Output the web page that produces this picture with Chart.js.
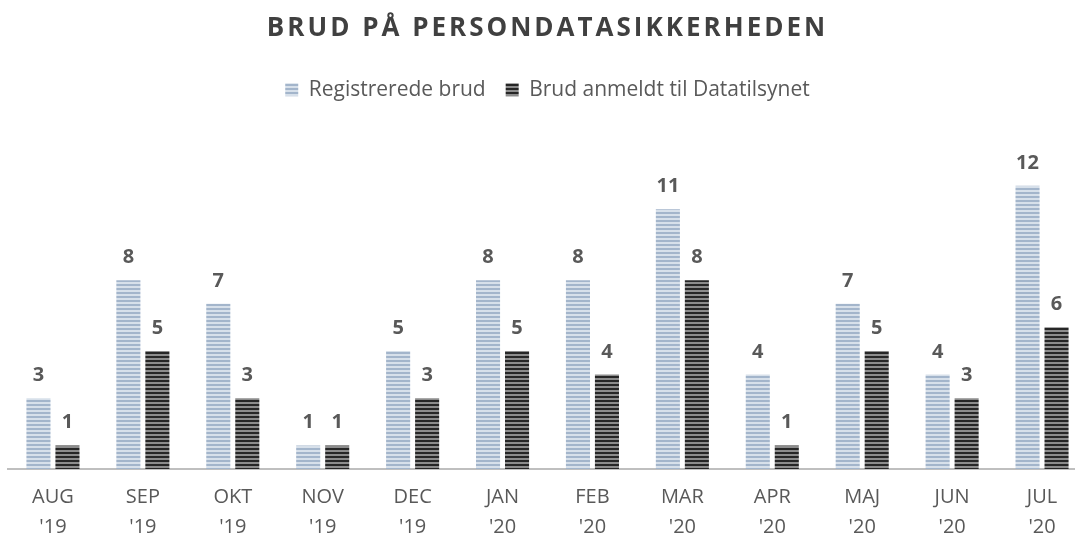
<!DOCTYPE html>
<html>
<head>
<meta charset="utf-8">
<script src="https://cdn.jsdelivr.net/npm/chart.js@4/dist/chart.umd.min.js"></script>
<style>
  html, body { margin: 0; padding: 0; background: #fff; }
  #wrap { width: 1075px; height: 541px; }
</style>
</head>
<body>
<div id="wrap"><canvas id="chart"></canvas></div>
<script>
// --- data ---
const maaneder = [["AUG", "'19"], ["SEP", "'19"], ["OKT", "'19"], ["NOV", "'19"], ["DEC", "'19"], ["JAN", "'20"],
                  ["FEB", "'20"], ["MAR", "'20"], ["APR", "'20"], ["MAJ", "'20"], ["JUN", "'20"], ["JUL", "'20"]];
const registrerede = [3, 8, 7, 1, 5, 8, 8, 11, 4, 7, 4, 12];
const anmeldt = [1, 5, 3, 1, 3, 5, 4, 8, 1, 5, 3, 6];
const titel = 'BRUD PÅ PERSONDATASIKKERHEDEN';

const FONT = '"Open Sans", sans-serif';

// stribet mønster til søjlerne
function stribe(mork, lys) {
    const c = document.createElement('canvas');
    c.width = 4; c.height = 4;
    const ctx = c.getContext('2d');
    ctx.fillStyle = lys; ctx.fillRect(0, 0, 4, 4);
    ctx.fillStyle = mork; ctx.fillRect(0, 0, 4, 2);
    return ctx.createPattern(c, 'repeat');
}
const blaa = stribe('#a3b5cb', '#d7e0ea');
const sort = stribe('#262626', '#8c8c8c');

// originalen er beskåret i højre side: x-aksen fortsætter lidt ud over kanten
const bredereAkse = {
    id: 'bredereAkse',
    afterLayout(chart) {
        const x = chart.scales.x;
        x.right += 12;
        x.width += 12;
        x.configure();
    }
};

// tal over søjlerne + titel med spærring
const tegnTekst = {
    id: 'tegnTekst',
    afterDatasetsDraw(chart) {
        const ctx = chart.ctx;
        ctx.save();
        ctx.font = 'bold 20px ' + FONT;
        ctx.fillStyle = '#595959';
        ctx.textAlign = 'center';
        ctx.textBaseline = 'alphabetic';
        chart.data.datasets.forEach((ds, i) => {
            chart.getDatasetMeta(i).data.forEach((bar, j) => {
                ctx.fillText(ds.data[j], bar.x, bar.y - 17);
            });
        });
        ctx.restore();
    },
    afterDraw(chart) {
        const ctx = chart.ctx;
        ctx.save();
        ctx.font = 'bold 26px ' + FONT;
        ctx.letterSpacing = '3px';
        ctx.fillStyle = '#404040';
        ctx.textAlign = 'center';
        ctx.textBaseline = 'middle';
        ctx.fillText(titel, chart.width / 2 + 10, 29);
        ctx.restore();
    }
};

new Chart(document.getElementById('chart'), {
    type: 'bar',
    data: {
        labels: maaneder,
        datasets: [
            { label: 'Registrerede brud', data: registrerede, backgroundColor: blaa },
            { label: 'Brud anmeldt til Datatilsynet', data: anmeldt, backgroundColor: sort }
        ]
    },
    options: {
        responsive: true,
        maintainAspectRatio: false,
        animation: false,
        layout: { padding: { left: 8, right: -12, top: 0, bottom: -14 } },
        datasets: { bar: { categoryPercentage: 0.645, barPercentage: 0.83 } },
        plugins: {
            title: {
                display: true,
                text: titel,
                color: 'rgba(0,0,0,0)',
                font: { family: FONT, size: 26, weight: 'bold' },
                padding: { top: 10, bottom: 18 }
            },
            legend: {
                position: 'top',
                labels: {
                    color: '#595959',
                    font: { family: FONT, size: 21 },
                    boxWidth: 13,
                    boxHeight: 13,
                    padding: 20
                }
            },
            tooltip: { enabled: false }
        },
        scales: {
            x: {
                grid: { display: false, drawTicks: false },
                border: { color: '#bfbfbf', width: 2 },
                ticks: {
                    color: '#595959',
                    font: { family: FONT, size: 20, lineHeight: 1.5 },
                    padding: 13,
                    maxRotation: 0
                }
            },
            y: {
                display: false,
                min: 0,
                max: 15.2
            }
        }
    },
    plugins: [bredereAkse, tegnTekst]
});
</script>
</body>
</html>
